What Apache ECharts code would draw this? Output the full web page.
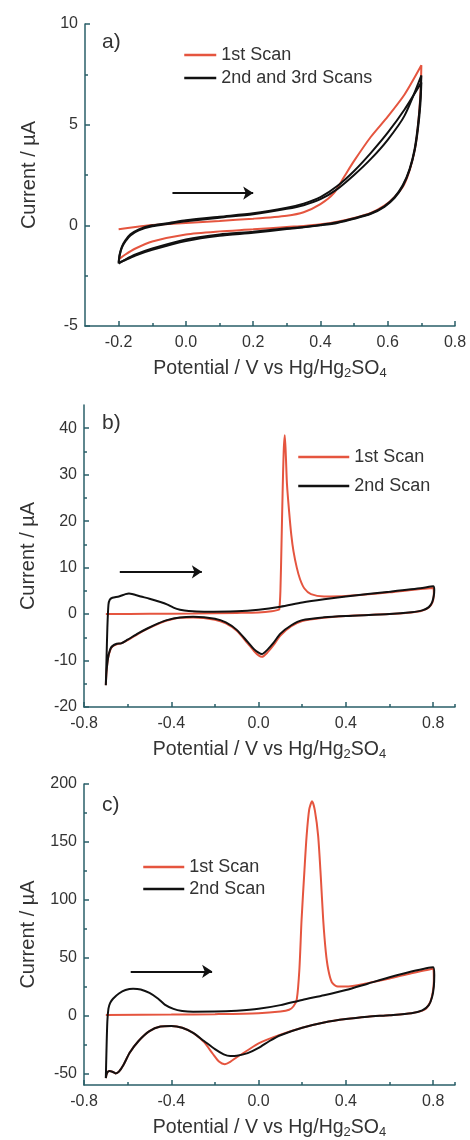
<!DOCTYPE html>
<html><head><meta charset="utf-8">
<script src="https://cdn.jsdelivr.net/npm/echarts@6/dist/echarts.min.js"></script>
<style>html,body{margin:0;padding:0;background:#fff}#c{width:470px;height:1140px}</style>
</head><body><div id="c"></div><script>
// ---------- DATA (potential V, current µA) ----------
const aFirstScan = [[-0.2,-0.2],[-0.15,-0.08],[-0.1,0.02],[-0.05,0.07],[0.0,0.12],[0.1,0.22],[0.2,0.33],[0.3,0.48],[0.35,0.65],[0.4,1.05],[0.44,1.6],[0.47,2.4],[0.5,3.2],[0.55,4.4],[0.6,5.4],[0.65,6.5],[0.7,7.95],
  [0.698,6.8],[0.692,5.3],[0.683,4.0],[0.668,2.9],[0.648,2.0],[0.62,1.4],[0.59,0.98],[0.55,0.62],[0.5,0.37],[0.45,0.18],[0.4,0.05],[0.35,-0.03],[0.3,-0.08],[0.2,-0.2],[0.1,-0.3],[0.0,-0.45],[-0.1,-0.8],[-0.15,-1.15],[-0.18,-1.45],[-0.2,-1.7]];
const aSecondScan = [[-0.2,-1.9],[-0.197,-1.5],[-0.19,-1.1],[-0.18,-0.8],[-0.165,-0.5],[-0.14,-0.25],[-0.1,-0.05],[-0.05,0.08],[0.0,0.2],[0.1,0.38],[0.2,0.55],[0.3,0.82],[0.35,1.0],[0.4,1.3],[0.45,1.8],[0.5,2.5],[0.55,3.3],[0.6,4.25],[0.65,5.45],[0.7,7.45],
  [0.697,6.3],[0.69,5.0],[0.68,3.8],[0.665,2.8],[0.645,2.0],[0.62,1.4],[0.59,0.95],[0.55,0.6],[0.5,0.35],[0.45,0.15],[0.4,0.02],[0.35,-0.08],[0.3,-0.15],[0.2,-0.32],[0.1,-0.45],[0.0,-0.7],[-0.1,-1.15],[-0.15,-1.45],[-0.18,-1.7],[-0.2,-1.9]];
const aThirdScan = [[-0.2,-1.85],[-0.197,-1.45],[-0.19,-1.05],[-0.18,-0.75],[-0.165,-0.45],[-0.14,-0.2],[-0.1,0.0],[-0.05,0.12],[0.0,0.25],[0.1,0.43],[0.2,0.6],[0.3,0.88],[0.35,1.08],[0.4,1.4],[0.45,1.95],[0.5,2.7],[0.55,3.6],[0.6,4.6],[0.65,5.75],[0.7,7.1],
  [0.697,6.0],[0.69,4.8],[0.68,3.7],[0.665,2.75],[0.645,1.95],[0.62,1.35],[0.59,0.92],[0.55,0.57],[0.5,0.32],[0.45,0.12],[0.4,0.0],[0.35,-0.1],[0.3,-0.18],[0.2,-0.37],[0.1,-0.52],[0.0,-0.78],[-0.1,-1.22],[-0.15,-1.5],[-0.18,-1.72],[-0.2,-1.85]];

const bFirstScan = [[-0.7,0.0],[-0.5,0.05],[-0.3,0.1],[-0.1,0.25],[0.0,0.35],[0.06,0.6],[0.09,0.9],[0.095,1.0],[0.1,5],[0.105,15],[0.11,26],[0.115,35],[0.12,38.5],[0.125,34],[0.13,28],[0.14,22],[0.15,17],[0.16,13.5],[0.175,10],[0.19,7.5],[0.21,5.5],[0.24,4.3],[0.3,3.8],[0.4,3.9],[0.6,4.7],[0.8,5.6],
  [0.803,4.5],[0.8,3.0],[0.79,1.9],[0.77,1.1],[0.74,0.6],[0.7,0.35],[0.6,0.0],[0.4,-0.4],[0.3,-0.8],[0.2,-1.5],[0.15,-2.6],[0.1,-4.6],[0.07,-6.6],[0.04,-8.3],[0.015,-9.2],[0.0,-8.9],[-0.02,-8.0],[-0.05,-6.3],[-0.1,-3.6],[-0.15,-2.0],[-0.2,-1.2],[-0.3,-0.75],[-0.36,-0.8],[-0.42,-1.4],[-0.46,-2.1],[-0.51,-3.2],[-0.55,-4.2],[-0.6,-5.6],[-0.63,-6.3],[-0.65,-6.5],[-0.67,-7.0],[-0.68,-7.8],[-0.69,-9.5],[-0.697,-12.5],[-0.7,-15.3]];
const bSecondScan = [[-0.7,-15.3],[-0.697,-10],[-0.693,-3],[-0.688,2.0],[-0.682,3.1],[-0.67,3.5],[-0.64,3.8],[-0.61,4.3],[-0.594,4.45],[-0.57,4.2],[-0.54,3.8],[-0.5,3.3],[-0.45,2.6],[-0.42,2.1],[-0.39,1.4],[-0.36,0.95],[-0.32,0.65],[-0.25,0.5],[-0.1,0.6],[0.0,0.95],[0.1,1.6],[0.2,2.5],[0.3,3.2],[0.4,3.8],[0.6,4.8],[0.75,5.6],[0.8,6.0],
  [0.805,5.2],[0.803,4.0],[0.795,2.5],[0.78,1.5],[0.75,0.8],[0.7,0.4],[0.6,0.0],[0.4,-0.4],[0.3,-0.7],[0.2,-1.3],[0.15,-2.4],[0.1,-4.2],[0.07,-6.1],[0.04,-7.7],[0.015,-8.6],[0.0,-8.3],[-0.02,-7.6],[-0.05,-6.0],[-0.1,-3.4],[-0.15,-1.8],[-0.2,-1.0],[-0.3,-0.6],[-0.36,-0.75],[-0.42,-1.3],[-0.46,-2.0],[-0.51,-3.1],[-0.55,-4.1],[-0.6,-5.5],[-0.63,-6.3],[-0.65,-6.4],[-0.67,-6.9],[-0.68,-7.6],[-0.69,-9.5],[-0.697,-12.5],[-0.7,-15.3]];

const cFirstScan = [[-0.7,0.5],[-0.4,0.8],[-0.2,1.2],[0.0,2.0],[0.1,3.5],[0.14,5],[0.16,8],[0.175,14],[0.187,40],[0.197,83],[0.21,125],[0.22,155],[0.232,178],[0.245,185],[0.258,177],[0.273,155],[0.285,120],[0.296,83],[0.308,55],[0.319,40],[0.335,29],[0.357,25.3],[0.4,25],[0.5,28],[0.6,32],[0.7,36.5],[0.8,40.5],
  [0.803,30],[0.798,20],[0.785,11],[0.76,5],[0.7,2.0],[0.6,0.3],[0.5,-1],[0.4,-3],[0.3,-6],[0.2,-10.5],[0.1,-16.5],[0.0,-24],[-0.05,-30],[-0.1,-36],[-0.13,-40],[-0.155,-42],[-0.18,-40],[-0.21,-33],[-0.25,-23],[-0.3,-15],[-0.35,-10.5],[-0.4,-9],[-0.45,-9.5],[-0.5,-13.5],[-0.55,-22],[-0.59,-32],[-0.62,-43],[-0.64,-48.5],[-0.655,-50],[-0.67,-48.5],[-0.685,-48],[-0.695,-50],[-0.7,-54]];
const cSecondScan = [[-0.7,-54],[-0.697,-30],[-0.693,-5],[-0.688,6],[-0.68,11],[-0.667,14.5],[-0.64,19],[-0.61,22],[-0.575,23.2],[-0.54,22.5],[-0.5,19.5],[-0.46,14.5],[-0.43,9.5],[-0.39,5.8],[-0.35,4.0],[-0.3,3.3],[-0.2,3.4],[-0.1,4.2],[0.0,5.8],[0.1,9],[0.2,13.5],[0.3,17.5],[0.4,22],[0.5,27.5],[0.6,33],[0.7,38],[0.8,41.7],
  [0.805,35],[0.803,25],[0.795,16],[0.78,9],[0.75,4.5],[0.7,2.0],[0.6,0.3],[0.5,-1],[0.4,-3],[0.3,-6],[0.2,-10.5],[0.1,-17],[0.05,-22],[0.0,-28],[-0.05,-32.5],[-0.1,-34.8],[-0.13,-35],[-0.16,-33.5],[-0.2,-29],[-0.25,-22],[-0.3,-15],[-0.35,-10.5],[-0.4,-9],[-0.45,-9.5],[-0.5,-13.5],[-0.55,-22],[-0.59,-32],[-0.62,-43],[-0.64,-48.5],[-0.655,-50],[-0.67,-48.5],[-0.685,-48],[-0.695,-50],[-0.7,-54]];

// scan-direction arrows [start, end]
const arrowA = [[-0.04,1.6],[0.2,1.6]];
const arrowB = [[-0.636,9.1],[-0.26,9.1]];
const arrowC = [[-0.586,38.2],[-0.213,38.2]];

// axis ranges and ticks
const aXRange = [-0.3,0.8], aXTicks = [-0.2,0,0.2,0.4,0.6,0.8], aXMinor = [-0.1,0.1,0.3,0.5,0.7];
const aYRange = [-5,10], aYTicks = [-5,0,5,10], aYMinor = [-2.5,2.5,7.5];
const bXRange = [-0.8,0.9], bXTicks = [-0.8,-0.4,0,0.4,0.8], bXMinor = [-0.6,-0.2,0.2,0.6,0.9];
const bYRange = [-20,45], bYTicks = [-20,-10,0,10,20,30,40], bYMinor = [-15,-5,5,15,25,35];
const cXRange = [-0.8,0.9], cXTicks = bXTicks, cXMinor = bXMinor;
const cYRange = [-60,200], cYTicks = [-50,0,50,100,150,200], cYMinor = [-25,25,75,125,175];

const panelLabels = ['a)','b)','c)'];
const legendA = ['1st Scan','2nd and 3rd Scans'];
const legendBC = ['1st Scan','2nd Scan'];
const xTitle = '{t|Potential / V vs Hg/Hg}{s|2}{t|SO}{s|4}';
const yTitle = 'Current / \u00b5A';

// ---------- STYLE ----------
const AX = '#2a5f68', TXT = '#333', FONT = '"Liberation Sans", Arial, sans-serif';
const RED = '#e5553f', BLK = '#111';

const grids = [
  {left:85, top:24, width:370, height:302},
  {left:84, top:405, width:371, height:302},
  {left:84, top:784, width:371, height:302}
];
const ranges = [
  [aXRange,aXTicks,aXMinor,aYRange,aYTicks,aYMinor],
  [bXRange,bXTicks,bXMinor,bYRange,bYTicks,bYMinor],
  [cXRange,cXTicks,cXMinor,cYRange,cYTicks,cYMinor]
];
const xAxes = [], yAxes = [];
ranges.forEach((r,g) => {
  const [xr,xt,xm,yr,yt,ym] = r;
  xAxes.push({type:'value', gridIndex:g, min:xr[0], max:xr[1], position:'bottom',
    axisLine:{show:true,onZero:false,lineStyle:{color:AX,width:1.5}},
    axisTick:{show:true,inside:true,length:5,customValues:xt,lineStyle:{color:AX,width:1.5}},
    axisLabel:{customValues:xt,formatter:v=>(+v).toFixed(1),margin:9,fontSize:16,color:TXT,fontFamily:FONT},
    splitLine:{show:false},
    name:xTitle, nameLocation:'middle', nameGap:32,
    nameTextStyle:{color:TXT, fontFamily:FONT, fontSize:19.5, rich:{
      t:{fontSize:19.5,color:TXT,fontFamily:FONT,lineHeight:22},
      s:{fontSize:13,color:TXT,fontFamily:FONT,lineHeight:10,padding:[12,0,0,0],verticalAlign:'bottom'}}}
  });
  xAxes.push({type:'value', gridIndex:g, min:xr[0], max:xr[1], position:'bottom',
    axisLine:{show:false,onZero:false},
    axisTick:{show:true,inside:true,length:3,customValues:xm,lineStyle:{color:AX,width:1.5}},
    axisLabel:{show:false,customValues:xm}, splitLine:{show:false}});
  yAxes.push({type:'value', gridIndex:g, min:yr[0], max:yr[1], position:'left',
    axisLine:{show:true,onZero:false,lineStyle:{color:AX,width:1.5}},
    axisTick:{show:true,inside:true,length:5,customValues:yt,lineStyle:{color:AX,width:1.5}},
    axisLabel:{customValues:yt,margin:7,fontSize:16,color:TXT,fontFamily:FONT},
    splitLine:{show:false},
    name:yTitle, nameLocation:'middle', nameGap:46,
    nameTextStyle:{color:TXT,fontFamily:FONT,fontSize:20}
  });
  yAxes.push({type:'value', gridIndex:g, min:yr[0], max:yr[1], position:'left',
    axisLine:{show:false,onZero:false},
    axisTick:{show:true,inside:true,length:3,customValues:ym,lineStyle:{color:AX,width:1.5}},
    axisLabel:{show:false,customValues:ym}, splitLine:{show:false}});
});

function line(name, data, g, color, arrow) {
  const s = {type:'line', name, data, xAxisIndex:2*g, yAxisIndex:2*g, showSymbol:false, symbol:'none',
    smooth:0.25, lineStyle:{color, width:2}, itemStyle:{color}, clip:true, silent:true, animation:false};
  if (arrow) s.markLine = {silent:true, symbol:['none','arrow'], symbolSize:10, animation:false,
    lineStyle:{color:BLK,width:2,type:'solid'}, label:{show:false},
    data:[[{coord:arrow[0]},{coord:arrow[1]}]]};
  return s;
}

const series = [
  line('1st Scan', aFirstScan, 0, RED),
  line('2nd and 3rd Scans', aSecondScan, 0, BLK),
  line('2nd and 3rd Scans', aThirdScan, 0, BLK, arrowA),
  line('1st Scan', bFirstScan, 1, RED),
  line('2nd Scan', bSecondScan, 1, BLK, arrowB),
  line('1st Scan', cFirstScan, 2, RED),
  line('2nd Scan', cSecondScan, 2, BLK, arrowC)
];

const legStyle = {fontSize:18,color:TXT,fontFamily:FONT,lineHeight:18};
const legCommon = {orient:'vertical', padding:0, itemHeight:2, textStyle:legStyle, selectedMode:false,
  itemStyle:{opacity:0}, lineStyle:{width:2.5}};
const titleStyle = {fontSize:21,fontWeight:'normal',color:TXT,fontFamily:FONT};
const option = {
  animation:false,
  title: [
    {text:panelLabels[0], left:102, top:32, padding:0, textStyle:titleStyle},
    {text:panelLabels[1], left:102, top:413, padding:0, textStyle:titleStyle},
    {text:panelLabels[2], left:102, top:795, padding:0, textStyle:titleStyle}
  ],
  legend: [
    Object.assign({data:legendA, left:183, top:46, itemWidth:32, itemGap:5}, legCommon),
    Object.assign({data:legendBC, left:297, top:448, itemWidth:51, itemGap:11}, legCommon),
    Object.assign({data:legendBC, left:142, top:858, itemWidth:41, itemGap:4}, legCommon)
  ],
  grid: grids,
  xAxis: xAxes,
  yAxis: yAxes,
  series
};
const chart = echarts.init(document.getElementById('c'), null, {renderer:'canvas'});
chart.setOption(option);
</script></body></html>
